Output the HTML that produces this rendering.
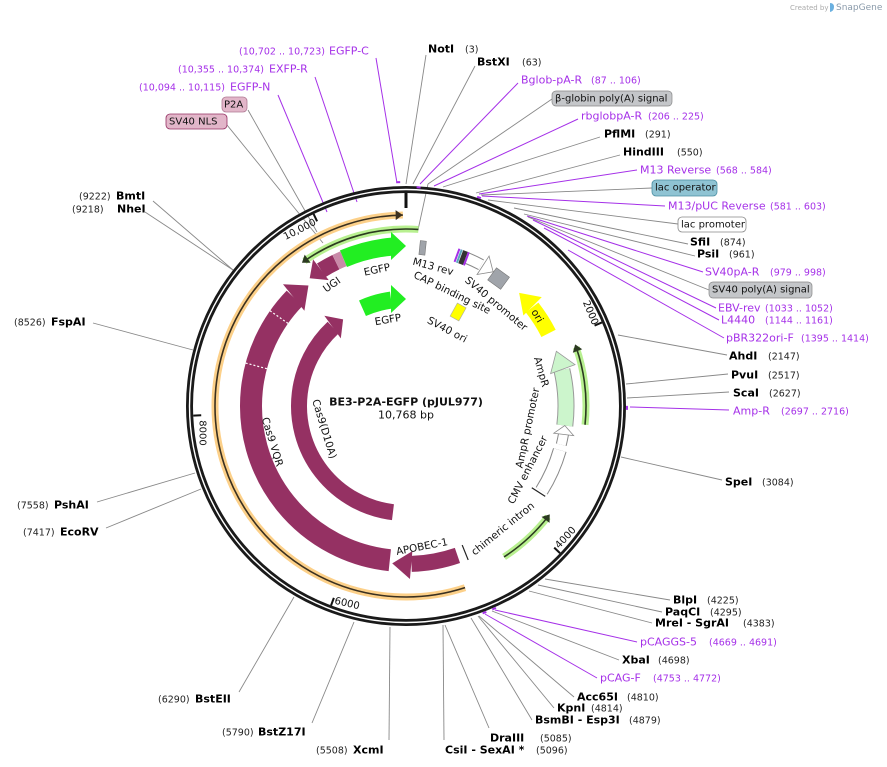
<!DOCTYPE html>
<html><head><meta charset="utf-8"><style>
html,body{margin:0;padding:0;background:#fff;}
svg{display:block;font-family:"DejaVu Sans","Liberation Sans",sans-serif;}
.b{font-weight:bold;font-size:11px;fill:#000}
.n{font-size:9.5px;fill:#222}
.p{font-size:11px;fill:#a530e8}
.pn{font-size:9.5px;fill:#a530e8}
.l{stroke:#888;stroke-width:0.9;fill:none}
.lp{stroke:#a530e8;stroke-width:1;fill:none}
.f{font-size:10.3px;fill:#111}
.bx{font-size:10px;fill:#111}
</style></head><body>
<svg width="887" height="767" viewBox="0 0 887 767" xmlns="http://www.w3.org/2000/svg">
<g dominant-baseline="central">
<!-- leader lines -->
<line class="l" x1="406" y1="184" x2="426" y2="55"/>
<line class="l" x1="413" y1="184" x2="475" y2="66"/>
<line class="lp" x1="420" y1="184" x2="518" y2="83"/>
<line class="l" x1="428" y1="184" x2="552" y2="99"/>
<line class="l" x1="428" y1="184" x2="418" y2="230"/>
<line class="lp" x1="434" y1="186" x2="578" y2="119"/>
<line class="l" x1="443" y1="187" x2="600" y2="137"/>
<line class="l" x1="476" y1="193" x2="620" y2="155"/>
<line class="lp" x1="479" y1="194" x2="637" y2="170"/>
<line class="l" x1="481" y1="195" x2="652" y2="188"/>
<line class="lp" x1="482" y1="196" x2="665" y2="206"/>
<line class="l" x1="488" y1="200" x2="678" y2="224"/>
<line class="l" x1="514" y1="208" x2="688" y2="244"/>
<line class="l" x1="524" y1="214" x2="695" y2="256"/>
<line class="lp" x1="527" y1="216" x2="703" y2="272"/>
<line class="l" x1="528" y1="217" x2="709" y2="290"/>
<line class="lp" x1="533" y1="220" x2="716" y2="308"/>
<line class="lp" x1="544" y1="228" x2="719" y2="320"/>
<line class="lp" x1="568" y1="250" x2="724" y2="338"/>
<line class="l" x1="618" y1="335" x2="727" y2="355"/>
<line class="l" x1="626" y1="384" x2="728" y2="374"/>
<line class="l" x1="627" y1="398" x2="729" y2="392"/>
<line class="lp" x1="630" y1="407" x2="729" y2="410"/>
<line class="l" x1="621" y1="457" x2="722" y2="480"/>
<line class="l" x1="545" y1="579" x2="670" y2="600"/>
<line class="l" x1="538" y1="585" x2="662" y2="612"/>
<line class="l" x1="529" y1="591" x2="652" y2="623"/>
<line class="lp" x1="495" y1="610" x2="637" y2="642"/>
<line class="l" x1="492" y1="611" x2="619" y2="660"/>
<line class="lp" x1="485" y1="614" x2="597" y2="678"/>
<line class="l" x1="479" y1="616" x2="574" y2="697"/>
<line class="l" x1="478" y1="616" x2="554" y2="708"/>
<line class="l" x1="471" y1="618" x2="532" y2="720"/>
<line class="l" x1="445" y1="625" x2="489" y2="728"/>
<line class="l" x1="443" y1="625" x2="444" y2="740"/>
<line class="l" x1="390" y1="627" x2="389" y2="740"/>
<line class="l" x1="354" y1="622" x2="312" y2="723"/>
<line class="l" x1="294" y1="597" x2="239" y2="692"/>
<line class="l" x1="201" y1="489" x2="106" y2="528"/>
<line class="l" x1="195" y1="473" x2="97" y2="502"/>
<line class="l" x1="193" y1="350" x2="93" y2="323"/>
<line class="l" x1="233" y1="270" x2="145" y2="212"/>
<line class="l" x1="233" y1="270" x2="153" y2="201"/>
<line class="l" x1="323" y1="243" x2="227" y2="125"/>
<line class="l" x1="317" y1="232" x2="248" y2="110"/>
<line class="lp" x1="327" y1="212" x2="278" y2="95"/>
<line class="lp" x1="357" y1="202" x2="315" y2="77"/>
<line class="lp" x1="397" y1="183" x2="376" y2="58"/>

<!-- main ring -->
<circle cx="406" cy="406" r="216.5" fill="none" stroke="#1a1a1a" stroke-width="7"/>
<circle cx="406" cy="406" r="216.5" fill="none" stroke="#fff" stroke-width="1.4"/>

<g transform="translate(406,406)">
<line x1="0" y1="-213" x2="0" y2="-198" stroke="#111" stroke-width="3"/>
<g stroke="#111" stroke-width="2">
<line x1="0" y1="-213" x2="0" y2="-205" transform="rotate(66.9)"/>
<line x1="0" y1="-213" x2="0" y2="-205" transform="rotate(133.7)"/>
<line x1="0" y1="-213" x2="0" y2="-205" transform="rotate(200.6)"/>
<line x1="0" y1="-213" x2="0" y2="-205" transform="rotate(267.4)"/>
<line x1="0" y1="-213" x2="0" y2="-205" transform="rotate(334.3)"/>
</g>
<g fill="#a530e8">
<rect x="-2" y="-225" width="4" height="2" transform="rotate(-2)"/>
<rect x="-2" y="-220" width="4" height="2" transform="rotate(3.3)"/>
<rect x="-2" y="-222" width="4" height="2" transform="rotate(19.3)"/>
<rect x="-2" y="-222" width="4" height="2" transform="rotate(90.5)"/>
<rect x="-2" y="-222" width="4" height="2" transform="rotate(156.5)"/>
<rect x="-2" y="-222" width="4" height="2" transform="rotate(159.2)"/>
</g>

<circle r="191" fill="none" stroke="#fcd089" stroke-width="7" stroke-dasharray="656.7 3000" transform="rotate(72)"/>
<circle r="191" fill="none" stroke="#3a3020" stroke-width="1.6" stroke-dasharray="656.7 3000" transform="rotate(72)"/>
<polygon points="-7,-196 0,-191 -7,-186" fill="#3a3020" transform="rotate(359)"/>
<g fill="none">
<circle r="177" stroke="#b8f090" stroke-width="7" stroke-dasharray="120.5 3000" transform="rotate(235)"/>
<circle r="177" stroke="#2b3a20" stroke-width="1.6" stroke-dasharray="120.5 3000" transform="rotate(235)"/>
<circle r="180" stroke="#b8f090" stroke-width="7" stroke-dasharray="78.5 3000" transform="rotate(-19)"/>
<circle r="180" stroke="#2b3a20" stroke-width="1.6" stroke-dasharray="78.5 3000" transform="rotate(-19)"/>
<circle r="180" stroke="#b8f090" stroke-width="7" stroke-dasharray="59.7 3000" transform="rotate(38)"/>
<circle r="180" stroke="#2b3a20" stroke-width="1.6" stroke-dasharray="59.7 3000" transform="rotate(38)"/>
</g>
<g fill="#2b3a20">
<polygon points="7,-182 0,-177 7,-172" transform="rotate(324)"/>
<polygon points="7,-185 0,-180 7,-175" transform="rotate(70)"/>
<polygon points="7,-185 0,-180 7,-175" transform="rotate(127)"/>
</g>

<circle r="155" fill="none" stroke="#953163" stroke-width="22" stroke-dasharray="346.3 3000" transform="rotate(96)"/>
<polygon points="-19,-172 0,-155 -19,-138" fill="#953163" transform="rotate(321)"/>
<g stroke="#fff" stroke-width="1.2" stroke-dasharray="2 2">
<line x1="0" y1="-166" x2="0" y2="-144" transform="rotate(305)"/>
<line x1="0" y1="-166" x2="0" y2="-144" transform="rotate(285)"/>
</g>
<circle r="158" fill="none" stroke="#953163" stroke-width="16" stroke-dasharray="46.9 3000" transform="rotate(71)"/>
<polygon points="-19,-172 0,-158 -19,-144" fill="#953163" transform="rotate(185)"/>
<circle r="160" fill="none" stroke="#953163" stroke-width="16" stroke-dasharray="16.8 3000" transform="rotate(238)"/>
<polygon points="14,-173 0,-160 14,-147" fill="#953163" transform="rotate(323)"/>
<circle r="160" fill="none" stroke="#c98aa9" stroke-width="16" stroke-dasharray="8.4 3000" transform="rotate(244)"/>
<circle r="160" fill="none" stroke="#22ee22" stroke-width="18" stroke-dasharray="50.3 3000" transform="rotate(247)"/>
<polygon points="-15,-174 0,-160 -15,-146" fill="#22ee22" transform="rotate(360)"/>
<circle r="107" fill="none" stroke="#953163" stroke-width="16" stroke-dasharray="242.8 3000" transform="rotate(97)"/>
<polygon points="-13,-121 0,-107 -13,-93" fill="#953163" transform="rotate(324)"/>
<circle r="107" fill="none" stroke="#22ee22" stroke-width="17" stroke-dasharray="29.9 3000" transform="rotate(246)"/>
<polygon points="-15,-121 0,-107 -15,-93" fill="#22ee22" transform="rotate(360)"/>
<rect x="-5" y="-115" width="10" height="15" fill="#ffff00" stroke="#aaa" stroke-width="0.6" transform="rotate(29)"/>
<circle r="160" fill="none" stroke="#ffff00" stroke-width="16" stroke-dasharray="30.7 3000" transform="rotate(-38)"/>
<polygon points="19,-173 0,-160 19,-147" fill="#ffff00" transform="rotate(45)"/>
<circle r="160" fill="none" stroke="#999" stroke-width="17" stroke-dasharray="55.9 3000" transform="rotate(-13)"/>
<circle r="160" fill="none" stroke="#ccf5cc" stroke-width="15" stroke-dasharray="55.9 3000" transform="rotate(-13)"/>
<polygon points="19,-173 0,-160 19,-147" fill="#ccf5cc" stroke="#999" stroke-width="0.8" transform="rotate(70)"/>
<circle r="160" fill="none" stroke="#888" stroke-width="11" stroke-dasharray="11.2 3000" transform="rotate(10)"/>
<circle r="160" fill="none" stroke="#fff" stroke-width="9" stroke-dasharray="11.2 3000" transform="rotate(10)"/>
<polygon points="9,-170 0,-160 9,-150" fill="#fff" stroke="#888" stroke-width="0.8" transform="rotate(97)"/>
<circle r="160" fill="none" stroke="#888" stroke-width="14" stroke-dasharray="44.7 3000" transform="rotate(16)"/>
<circle r="160" fill="none" stroke="#fff" stroke-width="12" stroke-dasharray="44.7 3000" transform="rotate(16)"/>
<circle r="160" fill="none" stroke="#888" stroke-width="12" stroke-dasharray="16.8 3000" transform="rotate(-68)"/>
<circle r="160" fill="none" stroke="#fff" stroke-width="10" stroke-dasharray="16.8 3000" transform="rotate(-68)"/>
<polygon points="-12,-171 0,-160 -12,-149" fill="#fff" stroke="#888" stroke-width="0.8" transform="rotate(33)"/>
<rect x="-8" y="-165" width="16" height="15" fill="#a0a4aa" stroke="#777" stroke-width="0.6" transform="rotate(36)"/>
<rect x="-3" y="-166" width="6" height="14" fill="#a0a4aa" stroke="#777" stroke-width="0.6" transform="rotate(6)"/>
<g transform="rotate(20.5)">
<rect x="-6" y="-166" width="2" height="14" fill="#a530e8"/>
<rect x="-3.5" y="-166" width="2" height="14" fill="#5aa7bf"/>
<rect x="-1" y="-166" width="5" height="14" fill="#333"/>
<rect x="4" y="-166" width="2" height="14" fill="#a530e8"/>
</g>
<line x1="0" y1="-150" x2="0" y2="-166" stroke="#222" stroke-width="1.2" transform="rotate(158)"/>
<line x1="0" y1="-150" x2="0" y2="-166" stroke="#222" stroke-width="1.2" transform="rotate(123)"/>
</g>

<text x="300" y="230" font-size="10" fill="#111" text-anchor="middle" transform="rotate(-27 300 230)">10,000</text>
<text x="590" y="313" font-size="10" fill="#111" text-anchor="middle" transform="rotate(67 590 313)">2000</text>
<text x="566" y="538" font-size="10" fill="#111" text-anchor="middle" transform="rotate(-47 566 538)">4000</text>
<text x="347" y="604" font-size="10" fill="#111" text-anchor="middle" transform="rotate(13 347 604)">6000</text>
<text x="202" y="433" font-size="10" fill="#111" text-anchor="middle" transform="rotate(90 202 433)">8000</text>

<g class="f" text-anchor="middle">
<text x="377" y="270" transform="rotate(-12 377 270)">EGFP</text>
<text x="332" y="285" transform="rotate(-35 332 285)">UGI</text>
<text x="433" y="267" transform="rotate(15 433 267)">M13 rev</text>
<text x="452" y="293" transform="rotate(26 452 293)">CAP binding site</text>
<text x="496" y="304" transform="rotate(40 496 304)">SV40 promoter</text>
<text x="537" y="316" transform="rotate(60 537 316)">ori</text>
<text x="447" y="330" transform="rotate(28 447 330)">SV40 ori</text>
<text x="388" y="320" transform="rotate(-10 388 320)">EGFP</text>
<text x="541" y="372" transform="rotate(74 541 372)">AmpR</text>
<text x="528" y="428" transform="rotate(-78 528 428)">AmpR promoter</text>
<text x="528" y="470" transform="rotate(-63 528 470)">CMV enhancer</text>
<text x="503" y="529" transform="rotate(-39 503 529)">chimeric intron</text>
<text x="422" y="547" transform="rotate(-11 422 547)">APOBEC-1</text>
<text x="272" y="442" transform="rotate(73 272 442)">Cas9 VQR</text>
<text x="324" y="429" transform="rotate(73 324 429)">Cas9(D10A)</text>
<text x="406" y="402" font-weight="bold" font-size="11">BE3-P2A-EGFP (pJUL977)</text>
<text x="406" y="415" font-size="11">10,768 bp</text>
</g>

<text class="b" x="428" y="49">NotI</text><text class="n" x="465" y="50">(3)</text>
<text class="b" x="477" y="62">BstXI</text><text class="n" x="522" y="63">(63)</text>
<text class="p" x="521" y="80">Bglob-pA-R</text><text class="pn" x="591" y="81">(87 .. 106)</text>
<rect x="552" y="91" width="120" height="15" rx="4" fill="#c4c6c9" stroke="#888" stroke-width="0.7"/>
<text class="bx" x="555" y="99">β-globin poly(A) signal</text>
<text class="p" x="581" y="116">rbglobpA-R</text><text class="pn" x="648" y="117">(206 .. 225)</text>
<text class="b" x="604" y="134">PflMI</text><text class="n" x="645" y="135">(291)</text>
<text class="b" x="623" y="152">HindIII</text><text class="n" x="677" y="153">(550)</text>
<text class="p" x="640" y="170">M13 Reverse</text><text class="pn" x="716" y="171">(568 .. 584)</text>
<rect x="652" y="180" width="65" height="16" rx="4" fill="#8fc3d3" stroke="#4b8fa3" stroke-width="0.8"/>
<text class="bx" x="655" y="188">lac operator</text>
<text class="p" x="668" y="206">M13/pUC Reverse</text><text class="pn" x="770" y="207">(581 .. 603)</text>
<rect x="678" y="217" width="68" height="15" rx="4" fill="#fff" stroke="#888" stroke-width="0.8"/>
<text class="bx" x="681" y="225">lac promoter</text>
<text class="b" x="690" y="242">SfiI</text><text class="n" x="720" y="243">(874)</text>
<text class="b" x="697" y="254">PsiI</text><text class="n" x="729" y="255">(961)</text>
<text class="p" x="705" y="272">SV40pA-R</text><text class="pn" x="770" y="273">(979 .. 998)</text>
<rect x="709" y="282" width="103" height="16" rx="4" fill="#c4c6c9" stroke="#888" stroke-width="0.7"/>
<text class="bx" x="712" y="290">SV40 poly(A) signal</text>
<text class="p" x="718" y="308">EBV-rev</text><text class="pn" x="765" y="309">(1033 .. 1052)</text>
<text class="p" x="721" y="320">L4440</text><text class="pn" x="765" y="321">(1144 .. 1161)</text>
<text class="p" x="726" y="338">pBR322ori-F</text><text class="pn" x="801" y="339">(1395 .. 1414)</text>
<text class="b" x="729" y="356">AhdI</text><text class="n" x="768" y="357">(2147)</text>
<text class="b" x="731" y="375">PvuI</text><text class="n" x="768" y="376">(2517)</text>
<text class="b" x="733" y="393">ScaI</text><text class="n" x="769" y="394">(2627)</text>
<text class="p" x="733" y="411">Amp-R</text><text class="pn" x="781" y="412">(2697 .. 2716)</text>
<text class="b" x="725" y="482">SpeI</text><text class="n" x="762" y="483">(3084)</text>
<text class="b" x="673" y="600">BlpI</text><text class="n" x="707" y="601">(4225)</text>
<text class="b" x="665" y="612">PaqCI</text><text class="n" x="710" y="613">(4295)</text>
<text class="b" x="655" y="623">MreI  - SgrAI</text><text class="n" x="743" y="624">(4383)</text>
<text class="p" x="640" y="642">pCAGGS-5</text><text class="pn" x="709" y="643">(4669 .. 4691)</text>
<text class="b" x="622" y="660">XbaI</text><text class="n" x="658" y="661">(4698)</text>
<text class="p" x="600" y="678">pCAG-F</text><text class="pn" x="653" y="679">(4753 .. 4772)</text>
<text class="b" x="577" y="697">Acc65I</text><text class="n" x="627" y="698">(4810)</text>
<text class="b" x="557" y="708">KpnI</text><text class="n" x="591" y="709">(4814)</text>
<text class="b" x="535" y="720">BsmBI  - Esp3I</text><text class="n" x="629" y="721">(4879)</text>
<text class="b" x="490" y="738">DraIII</text><text class="n" x="540" y="739">(5085)</text>
<text class="b" x="445" y="750">CsiI  - SexAI *</text><text class="n" x="536" y="751">(5096)</text>
<text class="n" x="316" y="751">(5508)</text><text class="b" x="353" y="750">XcmI</text>
<text class="n" x="222" y="733">(5790)</text><text class="b" x="258" y="732">BstZ17I</text>
<text class="n" x="158" y="700">(6290)</text><text class="b" x="195" y="699">BstEII</text>
<text class="n" x="23" y="533">(7417)</text><text class="b" x="60" y="532">EcoRV</text>
<text class="n" x="17" y="506">(7558)</text><text class="b" x="54" y="505">PshAI</text>
<text class="n" x="14" y="323">(8526)</text><text class="b" x="51" y="322">FspAI</text>
<text class="n" x="72" y="210">(9218)</text><text class="b" x="117" y="209">NheI</text>
<text class="n" x="79" y="197">(9222)</text><text class="b" x="116" y="196">BmtI</text>
<rect x="166" y="114" width="61" height="15" rx="4" fill="#e2b6c9" stroke="#953163" stroke-width="0.8"/>
<text class="bx" x="169" y="122">SV40 NLS</text>
<rect x="222" y="97" width="25" height="15" rx="4" fill="#e2b6c9" stroke="#b07a94" stroke-width="0.8"/>
<text class="bx" x="224" y="105">P2A</text>
<text class="pn" x="139" y="88">(10,094 .. 10,115)</text><text class="p" x="230" y="87">EGFP-N</text>
<text class="pn" x="178" y="70">(10,355 .. 10,374)</text><text class="p" x="269" y="69">EXFP-R</text>
<text class="pn" x="239" y="52">(10,702 .. 10,723)</text><text class="p" x="329" y="51">EGFP-C</text>
<text x="790" y="8" font-size="7" fill="#aaa">Created by</text>
<path d="M830 3 q4 0 4 4 q0 4 -4 5 z" fill="#6ab0e0"/>
<text x="836" y="8" font-size="9" fill="#8a9aaa">SnapGene</text>
</g>
</svg>
</body></html>
